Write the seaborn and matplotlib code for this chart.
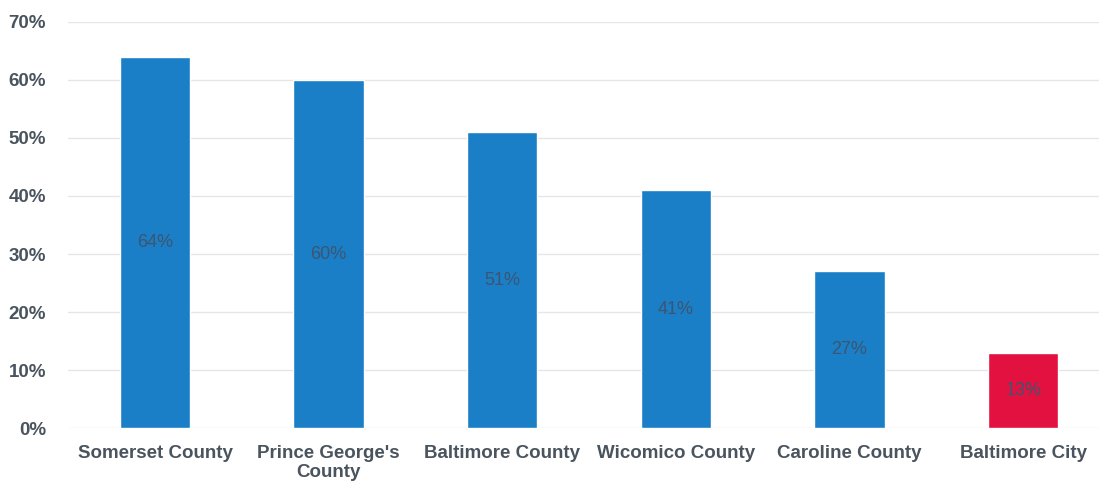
import pandas as pd
import matplotlib
matplotlib.use("Agg")
import matplotlib.pyplot as plt
import seaborn as sns
from matplotlib.ticker import PercentFormatter

counties = ["Somerset County", "Prince George's\nCounty", "Baltimore County",
            "Wicomico County", "Caroline County", "Baltimore City"]
shares = [64, 60, 51, 41, 27, 13]
bar_colors = ["#1a7fc7", "#1a7fc7", "#1a7fc7", "#1a7fc7", "#1a7fc7", "#e2113f"]

df = pd.DataFrame({"county": counties, "share": shares})

sns.set_style("white")
plt.rcParams["font.family"] = ["Liberation Sans", "DejaVu Sans"]

fig = plt.figure(figsize=(10.99, 4.87), dpi=100)
ax = fig.add_axes([0.062, 0.121, 0.948, 0.834])

sns.barplot(data=df, x="county", y="share", hue="county", palette=bar_colors,
            legend=False, width=0.405, saturation=1, ax=ax)

for cont in ax.containers:
    ax.bar_label(cont, labels=[f"{v:.0f}%" for v in cont.datavalues],
                 label_type="center", color="#3d5570", fontsize=13)

ax.set_ylim(0, 70)
ax.set_yticks(range(0, 71, 10))
ax.yaxis.set_major_formatter(PercentFormatter(decimals=0))
ax.grid(axis="y", color="#e6e6e6", linewidth=1)
ax.set_axisbelow(True)
for side in ["top", "right", "left", "bottom"]:
    ax.spines[side].set_visible(False)
ax.tick_params(axis="both", length=0, labelcolor="#4a545e")
ax.tick_params(axis="y", pad=16, labelsize=13.5)
ax.tick_params(axis="x", pad=12, labelsize=13.5)
for lbl in ax.get_xticklabels() + ax.get_yticklabels():
    lbl.set_fontweight("bold")
ax.set_xlabel("")
ax.set_ylabel("")

fig.savefig("out.png", dpi=100)
